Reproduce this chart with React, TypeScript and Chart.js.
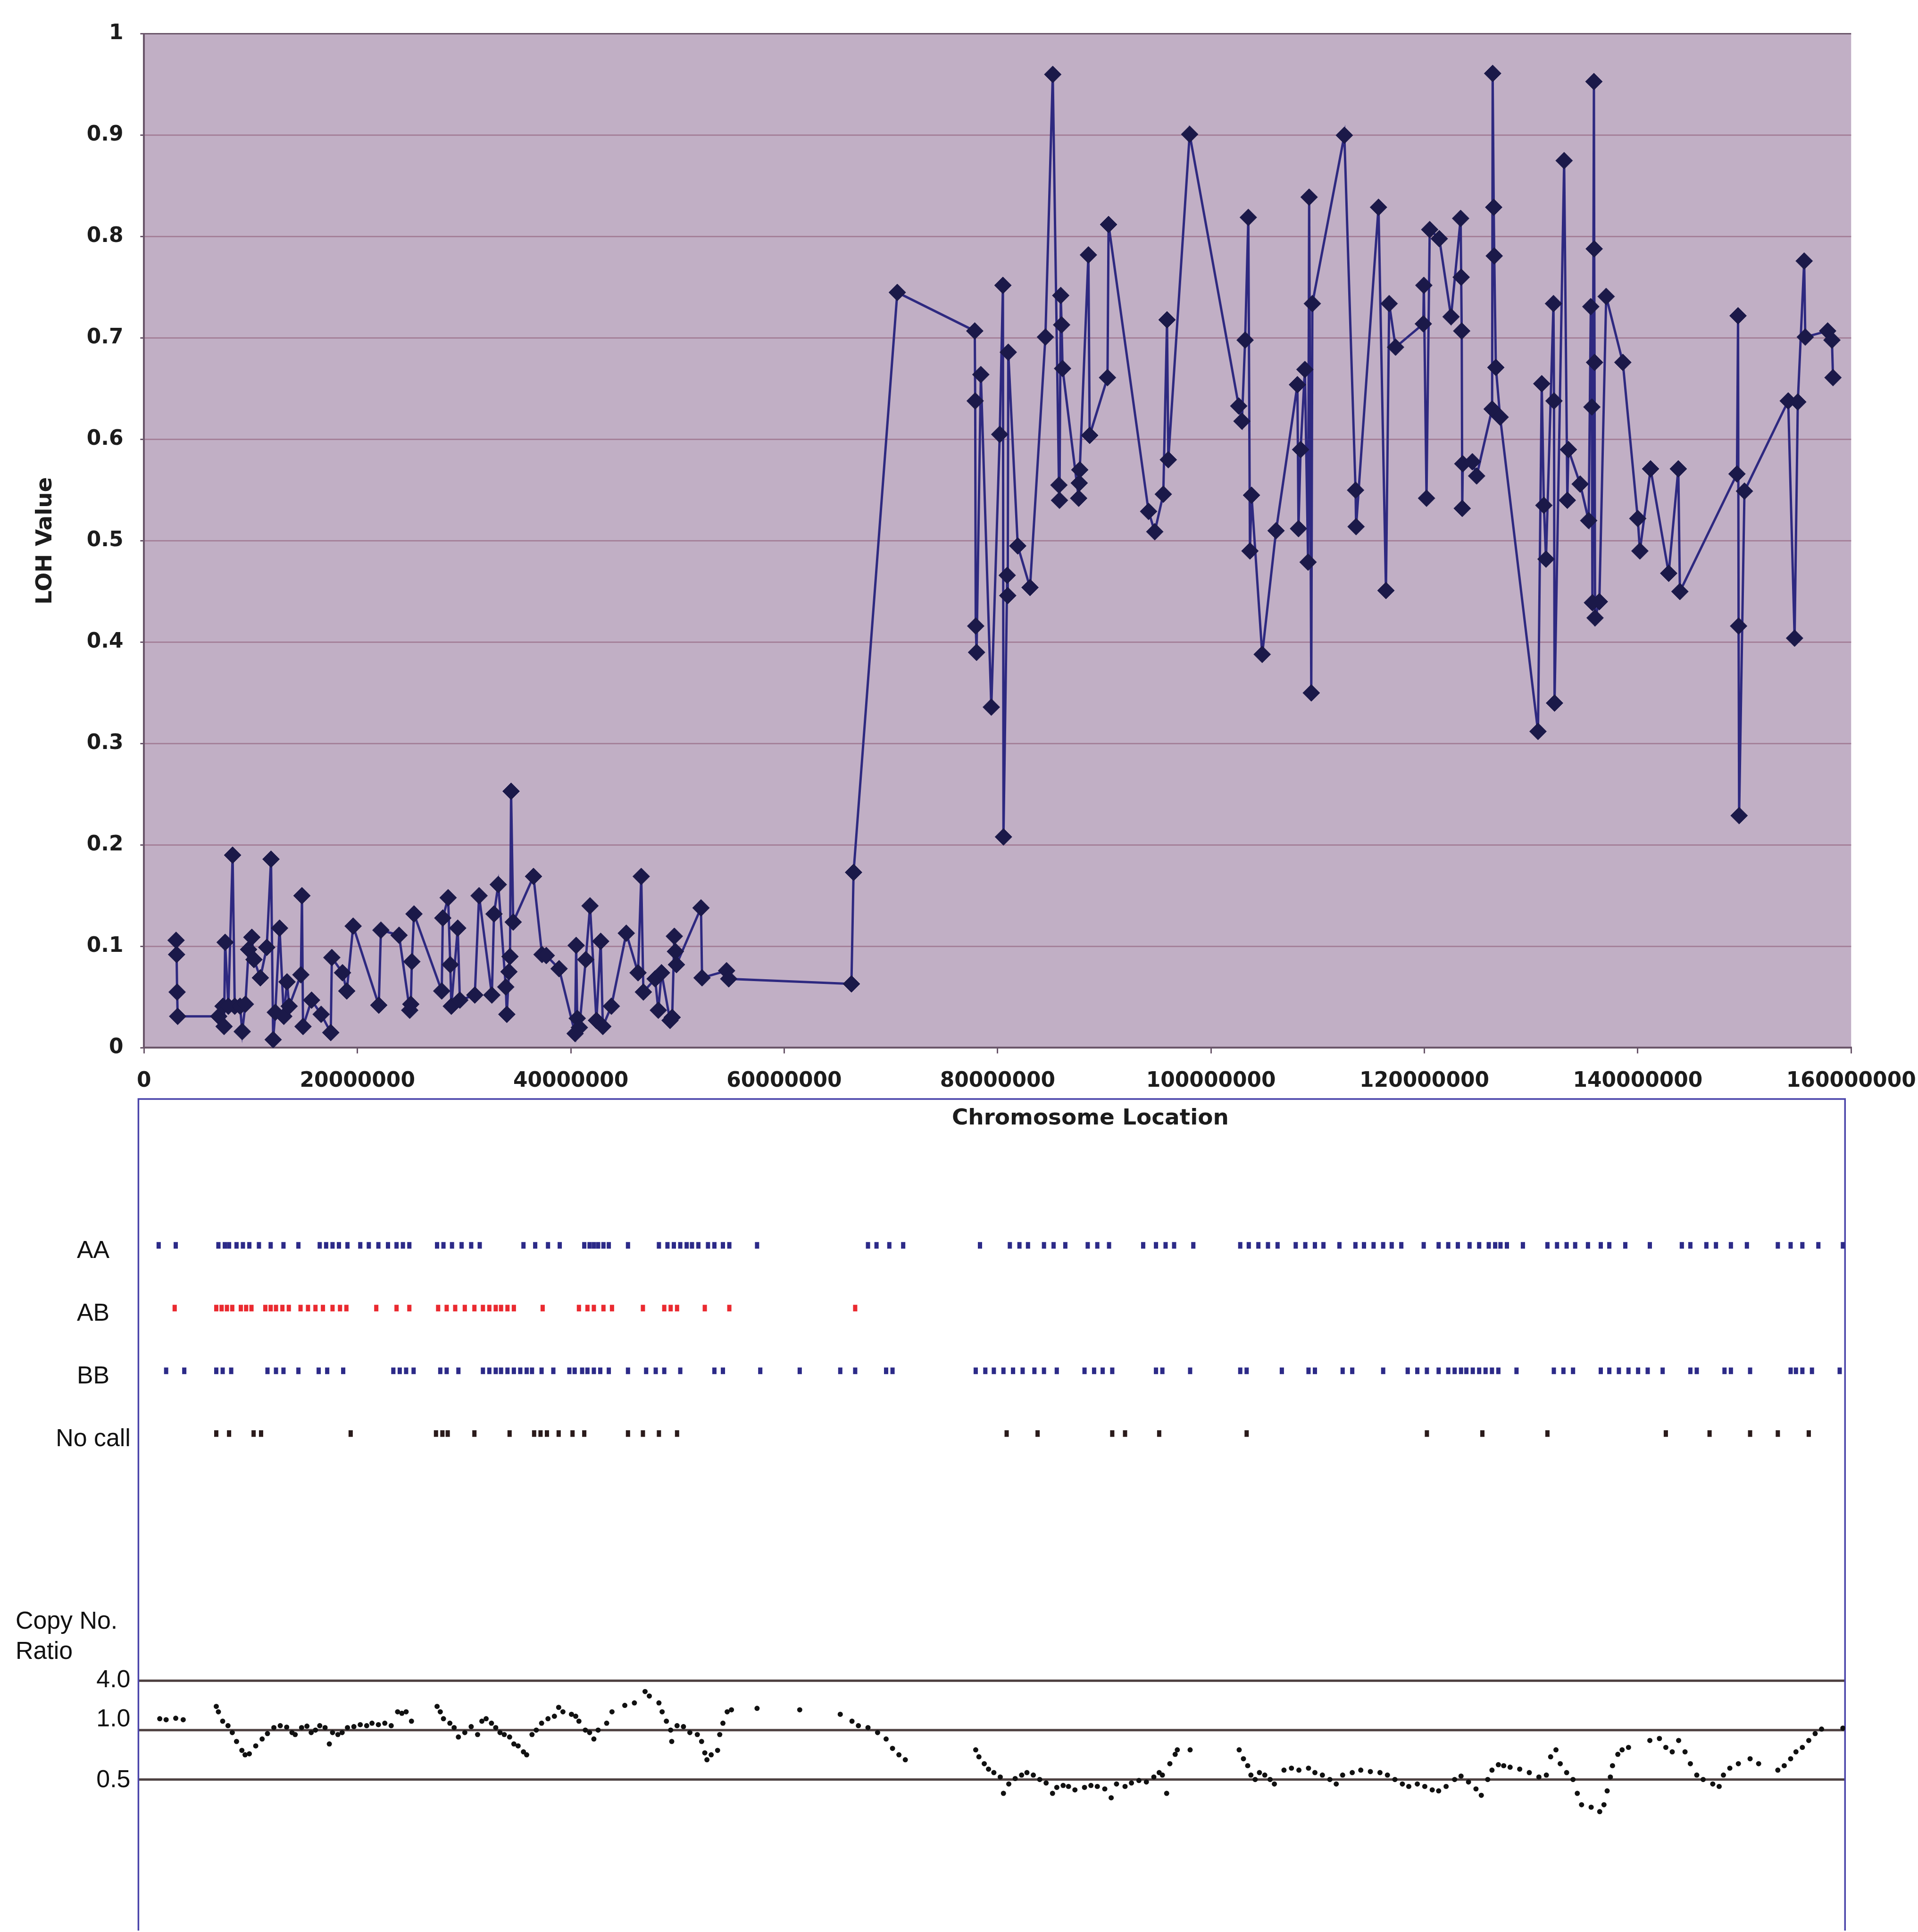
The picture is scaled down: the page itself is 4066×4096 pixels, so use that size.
import React, { useEffect, useRef } from 'react';
import { Chart, registerables } from 'chart.js';

Chart.register(...registerables);

const S = 0.998;
const AXIS_FONT = '"DejaVu Sans", "Liberation Sans", sans-serif';
const PANEL_FONT = '"Liberation Sans", Arial, sans-serif';

// ---------- LOH line (top chart) ----------
const lohPositionMb = [
  3.0, 3.05, 3.1, 3.15, 7.0, 7.4, 7.5, 7.6, 7.9, 8.3, 8.5, 9.0, 9.2, 9.5, 9.8, 10.1, 10.3, 10.9, 11.5, 11.9,
  12.1, 12.3, 12.7, 13.1, 13.4, 13.6, 14.7, 14.8, 14.9, 15.7, 16.6, 17.5, 17.6, 18.6, 19.0, 19.6, 22.0, 22.2, 23.9, 24.9,
  25.0, 25.1, 25.3, 27.9, 28.0, 28.5, 28.7, 28.8, 29.4, 29.6, 31.0, 31.4, 32.6, 32.8, 33.2, 33.9, 34.0, 34.2, 34.3, 34.4,
  34.6, 36.5, 37.3, 37.7, 38.9, 40.4, 40.5, 40.6, 40.8, 41.4, 41.8, 42.4, 42.8, 43.0, 43.8, 45.2, 46.3, 46.6, 46.8, 47.9,
  48.2, 48.5, 49.3, 49.5, 49.7, 49.8, 49.9, 52.2, 52.3, 54.6, 54.8, 66.3, 66.5, 70.6,
  77.86, 77.9, 77.95, 78.03, 78.43, 79.41, 80.2, 80.5, 80.55, 80.9, 80.95, 81.0, 81.89, 83.04, 84.48, 85.17, 85.75, 85.8, 85.92, 86.0,
  86.09, 87.6, 87.65, 87.7, 88.51, 88.63, 90.3, 90.4, 94.15, 94.73, 95.53, 95.88, 96.0, 98.0, 102.6, 102.9, 103.2, 103.5, 103.65, 103.8,
  104.8, 106.1, 108.1, 108.2, 108.4, 108.8, 109.1, 109.2, 109.4, 109.5, 112.5, 113.55, 113.6, 115.7, 116.4, 116.7, 117.3, 119.9, 119.95, 120.2,
  120.5, 121.4, 122.5, 123.4, 123.45, 123.5, 123.55, 123.6, 124.5, 124.9, 126.35, 126.4, 126.5, 126.55, 126.7, 127.1, 130.65, 131.0, 131.2, 131.4,
  132.1, 132.15, 132.2, 133.1, 133.4, 133.5, 134.6, 135.4, 135.6, 135.7, 135.75, 135.89, 135.92, 135.95, 136.0, 136.4, 137.04, 138.6, 140.0, 140.2,
  141.2, 142.9, 143.8, 143.95, 149.3, 149.4, 149.45, 149.5, 150.0, 154.1, 154.7, 155.0, 155.6, 155.7, 157.8, 158.2, 158.3,
];
const lohValue = [
  0.106, 0.092, 0.055, 0.031, 0.031, 0.041, 0.021, 0.104, 0.041, 0.19, 0.041, 0.041, 0.016, 0.043, 0.097, 0.109, 0.087, 0.069, 0.099, 0.186,
  0.008, 0.035, 0.118, 0.031, 0.065, 0.041, 0.072, 0.15, 0.021, 0.047, 0.033, 0.015, 0.089, 0.074, 0.056, 0.12, 0.042, 0.116, 0.111, 0.037,
  0.043, 0.085, 0.132, 0.056, 0.128, 0.148, 0.082, 0.041, 0.118, 0.047, 0.052, 0.15, 0.052, 0.132, 0.161, 0.06, 0.033, 0.075, 0.09, 0.253,
  0.124, 0.169, 0.092, 0.091, 0.078, 0.014, 0.101, 0.029, 0.02, 0.087, 0.14, 0.027, 0.105, 0.021, 0.041, 0.113, 0.074, 0.169, 0.055, 0.068,
  0.037, 0.074, 0.027, 0.03, 0.11, 0.095, 0.082, 0.138, 0.069, 0.076, 0.068, 0.063, 0.173, 0.745,
  0.707, 0.638, 0.416, 0.39, 0.664, 0.336, 0.605, 0.752, 0.208, 0.466, 0.446, 0.686, 0.495, 0.454, 0.701, 0.96, 0.555, 0.54, 0.742, 0.713,
  0.67, 0.542, 0.557, 0.57, 0.782, 0.604, 0.661, 0.812, 0.529, 0.509, 0.546, 0.718, 0.58, 0.901, 0.633, 0.618, 0.698, 0.819, 0.49, 0.545,
  0.388, 0.51, 0.654, 0.512, 0.59, 0.669, 0.479, 0.839, 0.35, 0.734, 0.9, 0.55, 0.514, 0.829, 0.451, 0.734, 0.691, 0.714, 0.752, 0.542,
  0.807, 0.798, 0.721, 0.818, 0.76, 0.707, 0.532, 0.576, 0.578, 0.564, 0.63, 0.961, 0.829, 0.781, 0.671, 0.622, 0.312, 0.655, 0.535, 0.482,
  0.734, 0.638, 0.34, 0.875, 0.54, 0.59, 0.556, 0.52, 0.731, 0.632, 0.439, 0.953, 0.788, 0.676, 0.424, 0.44, 0.741, 0.676, 0.522, 0.49,
  0.571, 0.468, 0.571, 0.45, 0.566, 0.722, 0.416, 0.229, 0.549, 0.638, 0.404, 0.637, 0.776, 0.701, 0.707, 0.698, 0.661,
];

// ---------- genotype calls (bottom panel) ----------
const genotypeRows = ['AA', 'AB', 'BB', 'No call'];
const genotypeRowValue = [4, 3, 2, 1];
const aaPositionMb = [
  1.9, 3.5, 7.5, 8.1, 8.5, 9.2, 9.8, 10.4, 11.3, 12.4, 13.6, 15.0, 17.0, 17.6, 18.2, 18.8, 19.6, 20.8, 21.6, 22.5,
  23.4, 24.2, 24.8, 25.4, 28.0, 28.6, 29.4, 30.3, 31.2, 32.0, 36.1, 37.2, 38.4, 39.5, 41.8, 42.3, 42.7, 43.1, 43.6, 44.1,
  45.9, 48.8, 49.6, 50.2, 50.8, 51.4, 51.9, 52.5, 53.4, 54.0, 54.8, 55.4, 58.0, 68.4, 69.2, 70.4, 71.7,
  78.9, 81.7, 82.6, 83.4, 84.9, 85.8, 86.9, 89.0, 89.9, 91.0, 94.2, 95.4, 96.3, 97.1, 98.9, 103.3, 104.1, 105.0, 105.9, 106.8,
  108.5, 109.4, 110.3, 111.1, 112.6, 114.1, 114.9, 115.8, 116.7, 117.5, 118.4, 120.5, 121.9, 122.8, 123.7, 124.8, 125.7, 126.6, 127.2, 127.7,
  128.3, 129.8, 132.1, 133.0, 133.9, 134.7, 135.9, 137.1, 137.9, 139.4, 141.7, 144.7, 145.5, 147.0, 147.9, 149.3, 150.8, 153.7, 154.9, 156.0,
  157.5, 159.8,
];
const abPositionMb = [
  3.4, 7.3, 7.8, 8.3, 8.8, 9.6, 10.1, 10.6, 11.9, 12.4, 12.9, 13.5, 14.1, 15.2, 15.9, 16.6, 17.3, 18.2, 18.9, 19.5,
  22.3, 24.2, 25.4, 28.1, 28.9, 29.7, 30.6, 31.5, 32.3, 32.9, 33.5, 34.0, 34.6, 35.2, 37.9, 41.3, 42.1, 42.7, 43.6, 44.4,
  47.3, 49.3, 49.9, 50.5, 53.1, 55.4, 67.2,
];
const bbPositionMb = [
  2.6, 4.3, 7.3, 7.9, 8.7, 12.1, 12.9, 13.6, 15.0, 16.9, 17.7, 19.2, 23.9, 24.5, 25.1, 25.8, 28.3, 28.9, 30.0, 32.3,
  32.9, 33.5, 34.0, 34.6, 35.2, 35.8, 36.4, 36.9, 37.8, 38.9, 40.4, 40.9, 41.6, 42.1, 42.7, 43.3, 44.1, 45.9, 47.6, 48.5,
  49.3, 50.8, 54.0, 54.8, 58.3, 62.0, 65.8, 67.2, 70.1, 70.7,
  78.5, 79.4, 80.2, 81.1, 82.0, 82.9, 84.0, 84.9, 86.1, 88.7, 89.6, 90.4, 91.3, 95.4, 96.0, 98.6, 103.3, 103.9, 107.2, 109.7,
  110.3, 112.9, 113.8, 116.7, 119.0, 119.9, 120.8, 121.9, 122.8, 123.4, 124.0, 124.5, 125.1, 125.7, 126.3, 126.9, 127.5, 129.2, 132.7, 133.6,
  134.5, 137.1, 137.9, 138.8, 139.7, 140.6, 141.5, 142.9, 145.5, 146.1, 148.7, 149.3, 151.1, 154.9, 155.4, 156.0, 156.9, 159.5,
];
const noCallPositionMb = [
  7.3, 8.5, 10.8, 11.5, 19.9, 27.9, 28.5, 29.0, 31.5, 34.8, 37.1, 37.7, 38.3, 39.4, 40.7, 41.8, 45.9, 47.3, 48.8, 50.5,
  81.4, 84.3, 91.3, 92.5, 95.7, 103.9, 120.8, 126.0, 132.1, 143.2, 147.3, 151.1, 153.7, 156.6,
];

// ---------- copy number ratio (bottom panel) ----------
// position on the ratio axis: 0 = "0.5" line, 1 = "1.0" line, 2 = "4.0" line
const copyLineLevels = [0, 1, 2];
const copyLineLabels = ['0.5', '1.0', '4.0'];
const copyPositionMb = [
  2.0, 2.6, 3.5, 4.2, 7.3, 7.5, 7.9, 8.4, 8.8, 9.2, 9.7, 10.0, 10.4, 11.0, 11.6, 12.1, 12.7, 13.3, 13.9, 14.4,
  14.7, 15.3, 15.8, 16.2, 16.6, 17.0, 17.5, 17.9, 18.2, 18.7, 19.1, 19.6, 20.2, 20.8, 21.4, 21.9, 22.5, 23.1, 23.7, 24.3,
  24.7, 25.1, 25.6, 28.0, 28.3, 28.6, 29.2, 29.6, 30.0, 30.6, 31.2, 31.8, 32.2, 32.6, 33.1, 33.5, 33.9, 34.3, 34.8, 35.2,
  35.6, 36.1, 36.4, 36.9, 37.3, 37.8, 38.4, 39.0, 39.4, 39.8, 40.6, 41.0, 41.3, 41.9, 42.3, 42.7, 43.1, 43.9, 44.4, 45.6,
  46.5, 47.5, 47.9, 48.8, 49.1, 49.5, 49.9, 50.0, 50.5, 51.1, 51.7, 52.4, 52.8, 53.1, 53.3, 53.7, 54.3, 54.5, 54.8, 55.2,
  55.6, 58.0, 62.0, 65.8, 66.9, 67.5, 68.4, 69.3, 70.1, 70.7, 71.3, 71.9,
  78.5, 78.8, 79.3, 79.7, 80.2, 80.8, 81.1, 81.6, 82.2, 82.8, 83.3, 83.9, 84.5, 85.1, 85.7, 86.1, 86.7, 87.2, 87.8, 88.7,
  89.3, 89.9, 90.6, 91.2, 91.7, 92.5, 93.1, 93.8, 94.5, 95.2, 95.7, 96.0, 96.4, 96.7, 97.2, 97.4, 98.6,
  103.2, 103.6, 104.0, 104.3, 104.7, 105.1, 105.6, 106.1, 106.5, 107.4, 108.1, 108.8, 109.7, 110.3, 111.0, 111.7, 112.3, 112.9, 113.8, 114.6,
  115.5, 116.4, 117.1, 117.8, 118.5, 119.1, 119.9, 120.6, 121.3, 121.9, 122.6, 123.4, 124.0, 124.7, 125.4, 125.9, 126.5, 126.9, 127.5, 128.0,
  128.6, 129.5, 130.4, 131.3, 132.0, 132.4, 132.9, 133.3, 133.9, 134.5, 134.9, 135.3, 136.2, 137.0, 137.4, 137.7, 138.0, 138.2, 138.7, 139.1,
  139.7, 141.7, 142.6, 143.2, 143.8, 144.4, 145.0, 145.5, 146.1, 146.7, 147.6, 148.2, 148.6, 149.2, 150.0, 151.1, 151.9, 153.7, 154.3, 154.9,
  155.4, 156.0, 156.6, 157.2, 157.8, 159.8,
];
const copyLevel = [
  1.23, 1.21, 1.24, 1.21, 1.48, 1.37, 1.18, 1.09, 0.95, 0.77, 0.59, 0.5, 0.52, 0.68, 0.82, 0.93, 1.05, 1.09, 1.06, 0.95,
  0.91, 1.05, 1.08, 0.95, 1.0, 1.09, 1.05, 0.72, 0.95, 0.91, 0.95, 1.05, 1.07, 1.11, 1.09, 1.14, 1.11, 1.14, 1.09, 1.37,
  1.34, 1.37, 1.18, 1.48, 1.37, 1.23, 1.14, 1.05, 0.86, 0.95, 1.07, 0.91, 1.18, 1.23, 1.14, 1.05, 0.95, 0.91, 0.86, 0.72,
  0.68, 0.56, 0.5, 0.91, 1.0, 1.14, 1.23, 1.28, 1.46, 1.37, 1.32, 1.28, 1.18, 1.0, 0.95, 0.82, 1.0, 1.14, 1.37, 1.5,
  1.55, 1.78, 1.69, 1.55, 1.37, 1.18, 1.0, 0.77, 1.09, 1.07, 0.95, 0.91, 0.77, 0.54, 0.4, 0.5, 0.59, 0.91, 1.14, 1.37,
  1.41, 1.44, 1.41, 1.32, 1.18, 1.09, 1.05, 0.95, 0.82, 0.63, 0.5, 0.4,
  0.6, 0.46, 0.32, 0.21, 0.14, 0.05, -0.28, -0.09, 0.02, 0.09, 0.14, 0.09, 0.0, -0.07, -0.28, -0.16, -0.12, -0.14, -0.21, -0.16,
  -0.12, -0.14, -0.19, -0.37, -0.09, -0.14, -0.07, -0.02, -0.05, 0.05, 0.14, 0.09, -0.28, 0.32, 0.51, 0.6, 0.6,
  0.6, 0.42, 0.28, 0.09, 0.0, 0.14, 0.09, 0.0, -0.09, 0.19, 0.23, 0.19, 0.23, 0.14, 0.09, 0.0, -0.09, 0.09, 0.14, 0.19,
  0.16, 0.14, 0.09, 0.0, -0.09, -0.14, -0.09, -0.14, -0.21, -0.23, -0.14, 0.0, 0.07, -0.05, -0.19, -0.32, 0.0, 0.19, 0.3, 0.28,
  0.25, 0.21, 0.14, 0.05, 0.09, 0.46, 0.6, 0.32, 0.14, 0.0, -0.28, -0.51, -0.56, -0.65, -0.51, -0.23, 0.05, 0.28, 0.51, 0.6,
  0.65, 0.79, 0.83, 0.65, 0.56, 0.79, 0.56, 0.32, 0.09, 0.0, -0.09, -0.14, 0.09, 0.23, 0.32, 0.42, 0.32, 0.19, 0.28, 0.42,
  0.56, 0.65, 0.79, 0.93, 1.02, 1.04,
];

// ---------- colours ----------
const PLOT_BG = '#c1afc5';
const GRID = '#a5819a';
const AXIS_DARK = '#6a566a';
const LINE_COLOR = '#2e2980';
const MARKER_COLOR = '#1b1949';
const TEXT = '#1c1c1c';
const CALL_BLUE = '#2c2a88';
const CALL_RED = '#ea2a30';
const NOCALL = '#2a1a1a';
const BOX_BLUE = '#4a44aa';
const COPY_LINE = '#4d4040';

// reference geometry (full-size reference pixels)
const TOP_H = 2420;
const PLOT_L = 306, PLOT_R = 3932, PLOT_T = 72, PLOT_B = 2226;
const BOT_TOP = 2300, BOX_T = 2335, BOX_L = 294, BOX_R = 3919, REF_B = 4101;
const BOT_EXTRA = 24; // canvas runs past the window bottom so the chart area ends at the page edge

export default function App() {
  const topRef = useRef<HTMLCanvasElement>(null);
  const botRef = useRef<HTMLCanvasElement>(null);

  useEffect(() => {
    const topBg = {
      id: 'topBg',
      beforeDraw(chart: any) {
        const { ctx, chartArea: a } = chart;
        ctx.save();
        ctx.fillStyle = PLOT_BG;
        ctx.fillRect(a.left, a.top, a.right - a.left, a.bottom - a.top);
        ctx.restore();
      },
      afterDraw(chart: any) {
        const { ctx, chartArea: a } = chart;
        ctx.save();
        ctx.fillStyle = TEXT;
        ctx.font = `bold ${47 * S}px ${AXIS_FONT}`;
        ctx.textAlign = 'center';
        ctx.textBaseline = 'middle';
        ctx.fillText('Chromosome Location', 2316 * S, 2377 * S);
        ctx.translate(97 * S, (a.top + a.bottom) / 2);
        ctx.rotate(-Math.PI / 2);
        ctx.fillText('LOH Value', 0, 0);
        ctx.restore();
      },
    };

    const tickFont = { family: AXIS_FONT, size: 44 * S, weight: 'bold' as const };

    const top = new Chart(topRef.current!, {
      type: 'scatter',
      data: {
        datasets: [
          {
            data: lohPositionMb.map((p, i) => ({ x: p * 1e6, y: lohValue[i] })),
            showLine: true,
            borderColor: LINE_COLOR,
            borderWidth: 5 * S,
            pointStyle: 'rectRot',
            pointRadius: 18 * S,
            pointBackgroundColor: MARKER_COLOR,
            pointBorderColor: MARKER_COLOR,
            pointBorderWidth: 1,
          } as any,
        ],
      },
      options: {
        responsive: false,
        animation: false,
        devicePixelRatio: 1,
        events: [],
        layout: { padding: { left: 0, top: PLOT_T * S, right: (4071 - PLOT_R) * S, bottom: 0 } },
        plugins: { legend: { display: false }, tooltip: { enabled: false } },
        scales: {
          x: {
            type: 'linear',
            position: 'bottom',
            min: 0,
            max: 160000000,
            ticks: {
              stepSize: 20000000,
              autoSkip: false,
              maxRotation: 0,
              padding: 33 * S,
              color: TEXT,
              font: tickFont,
              callback: (v: any) => String(v),
            },
            grid: { drawOnChartArea: false, drawTicks: true, tickLength: 12 * S, color: AXIS_DARK, lineWidth: 3 * S },
            border: { display: true, color: AXIS_DARK, width: 4 * S },
            afterFit: (s: any) => {
              s.height = (TOP_H - PLOT_B) * S;
              s.paddingLeft = 0;
              s.paddingRight = 0;
            },
          },
          y: {
            type: 'linear',
            min: 0,
            max: 1,
            ticks: {
              stepSize: 0.1,
              padding: 36 * S,
              color: TEXT,
              font: tickFont,
              callback: (v: any) => String(Math.round(Number(v) * 10) / 10),
            },
            grid: {
              color: (c: any) => (c.tick && c.tick.value === 1 ? AXIS_DARK : GRID),
              lineWidth: 3 * S,
              tickLength: 8 * S,
              tickColor: AXIS_DARK,
            },
            border: { display: true, color: AXIS_DARK, width: 4 * S },
            afterFit: (s: any) => {
              s.width = PLOT_L * S;
            },
          },
        },
      } as any,
      plugins: [topBg],
    });

    const panel = {
      id: 'panel',
      beforeDatasetsDraw(chart: any) {
        const { ctx, chartArea: a } = chart;
        const yC = chart.scales.yC;
        ctx.save();
        ctx.strokeStyle = COPY_LINE;
        ctx.lineWidth = 5 * S;
        copyLineLevels.forEach((lv) => {
          const y = yC.getPixelForValue(lv);
          ctx.beginPath();
          ctx.moveTo(a.left, y);
          ctx.lineTo(a.right, y);
          ctx.stroke();
        });
        ctx.strokeStyle = BOX_BLUE;
        ctx.lineWidth = 3.5 * S;
        ctx.beginPath();
        ctx.moveTo(a.left, chart.height + 5);
        ctx.lineTo(a.left, a.top);
        ctx.lineTo(a.right, a.top);
        ctx.lineTo(a.right, chart.height + 5);
        ctx.stroke();
        ctx.restore();
      },
      afterDraw(chart: any) {
        const { ctx } = chart;
        const yG = chart.scales.yG;
        const yC = chart.scales.yC;
        ctx.save();
        ctx.fillStyle = '#111111';
        ctx.font = `${52 * S}px ${PANEL_FONT}`;
        ctx.textBaseline = 'middle';
        ctx.textAlign = 'center';
        genotypeRows.forEach((label, i) => {
          ctx.fillText(label, 198 * S, yG.getPixelForValue(genotypeRowValue[i]) + 12 * S);
        });
        ctx.textAlign = 'right';
        const shift = [2, -22, 0];
        copyLineLevels.forEach((lv, i) => {
          ctx.fillText(copyLineLabels[i], 277 * S, yC.getPixelForValue(lv) + shift[i] * S);
        });
        ctx.textAlign = 'left';
        ctx.fillText('Copy No.', 33 * S, (3446 - BOT_TOP) * S);
        ctx.fillText('Ratio', 33 * S, (3510 - BOT_TOP) * S);
        ctx.restore();
      },
    };

    const callSet = (pos: number[], row: number, color: string) => ({
      data: pos.map((p) => ({ x: p * 1e6, y: row })),
      yAxisID: 'yG',
      pointStyle: 'line',
      pointRotation: 90,
      pointRadius: 7 * S,
      pointBorderWidth: 9 * S,
      pointBorderColor: color,
      pointBackgroundColor: color,
      showLine: false,
    });

    const rowPx = 2646 - BOX_T;
    const unitG = (3046 - 2646) / 3;
    const unitC = (3781 - 3571) / 2;

    const bot = new Chart(botRef.current!, {
      type: 'scatter',
      data: {
        datasets: [
          callSet(aaPositionMb, genotypeRowValue[0], CALL_BLUE),
          callSet(abPositionMb, genotypeRowValue[1], CALL_RED),
          callSet(bbPositionMb, genotypeRowValue[2], CALL_BLUE),
          callSet(noCallPositionMb, genotypeRowValue[3], NOCALL),
          {
            data: copyPositionMb.map((p, i) => ({ x: p * 1e6, y: copyLevel[i] })),
            yAxisID: 'yC',
            pointStyle: 'circle',
            pointRadius: 5.5 * S,
            pointBorderWidth: 0,
            pointBackgroundColor: '#111111',
            pointBorderColor: '#111111',
            showLine: false,
          },
        ] as any,
      },
      options: {
        responsive: false,
        animation: false,
        devicePixelRatio: 1,
        events: [],
        layout: {
          padding: { left: BOX_L * S, right: (4071 - BOX_R) * S, top: (BOX_T - BOT_TOP) * S, bottom: BOT_EXTRA },
        },
        plugins: { legend: { display: false }, tooltip: { enabled: false } },
        scales: {
          x: { type: 'linear', min: 0, max: 160000000, display: false },
          yG: {
            type: 'linear',
            display: false,
            max: 4 + rowPx / unitG,
            min: 1 - (REF_B - 3046) / unitG,
          },
          yC: {
            type: 'linear',
            display: false,
            max: (3781 - BOX_T) / unitC,
            min: -(REF_B - 3781) / unitC,
          },
        },
      } as any,
      plugins: [panel],
    });

    return () => {
      top.destroy();
      bot.destroy();
    };
  }, []);

  const W = Math.round(4071 * S);
  const topH = Math.round(TOP_H * S);
  const botTop = Math.round(BOT_TOP * S);
  const botH = Math.round((REF_B - BOT_TOP) * S) + BOT_EXTRA;

  return (
    <div style={{ position: 'fixed', left: 0, top: 0, width: W, height: Math.round(4101 * S), background: '#ffffff', overflow: 'hidden' }}>
      <canvas ref={topRef} width={W} height={topH} style={{ position: 'absolute', left: 0, top: 0 }} />
      <canvas ref={botRef} width={W} height={botH} style={{ position: 'absolute', left: 0, top: botTop }} />
    </div>
  );
}
